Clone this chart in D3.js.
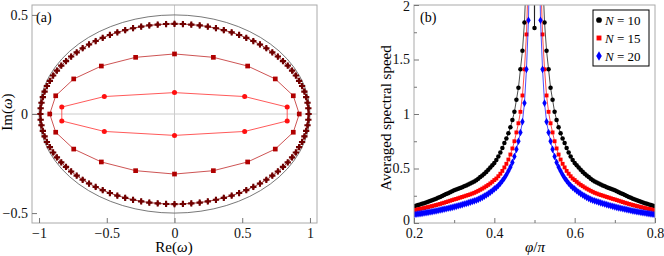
<!DOCTYPE html>
<html>
<head>
<script src="https://cdn.jsdelivr.net/npm/d3@7"></script>
<style>
  body { margin: 0; background: #fff; }
</style>
</head>
<body>
<svg width="664" height="256" id="mainsvg"></svg>
<script>
// ---- panel (a): eigenvalues in the complex plane ----
const outerRe = [0.990,0.988,0.982,0.972,0.959,0.942,0.920,0.896,0.868,0.836,0.801,0.763,0.722,0.678,0.631,0.582,0.530,0.477,0.422,0.364,0.306,0.246,0.186,0.124,0.062,0,
  -0.062,-0.124,-0.186,-0.246,-0.306,-0.364,-0.422,-0.477,-0.530,-0.582,-0.631,-0.678,-0.722,-0.763,-0.801,-0.836,-0.868,-0.896,-0.920,-0.942,-0.959,-0.972,-0.982,-0.988,-0.990,
  -0.988,-0.982,-0.972,-0.959,-0.942,-0.920,-0.896,-0.868,-0.836,-0.801,-0.763,-0.722,-0.678,-0.631,-0.582,-0.530,-0.477,-0.422,-0.364,-0.306,-0.246,-0.186,-0.124,-0.062,0,
  0.062,0.124,0.186,0.246,0.306,0.364,0.422,0.477,0.530,0.582,0.631,0.678,0.722,0.763,0.801,0.836,0.868,0.896,0.920,0.942,0.959,0.972,0.982,0.988];
const outerIm = [0,0.029,0.057,0.085,0.113,0.141,0.167,0.194,0.219,0.244,0.267,0.290,0.311,0.332,0.351,0.368,0.384,0.399,0.412,0.423,0.433,0.441,0.447,0.451,0.454,0.455,
  0.454,0.451,0.447,0.441,0.433,0.423,0.412,0.399,0.384,0.368,0.351,0.332,0.311,0.290,0.267,0.244,0.219,0.194,0.167,0.141,0.113,0.085,0.057,0.029,0,
  -0.029,-0.057,-0.085,-0.113,-0.141,-0.167,-0.194,-0.219,-0.244,-0.267,-0.290,-0.311,-0.332,-0.351,-0.368,-0.384,-0.399,-0.412,-0.423,-0.433,-0.441,-0.447,-0.451,-0.454,-0.455,
  -0.454,-0.451,-0.447,-0.441,-0.433,-0.423,-0.412,-0.399,-0.384,-0.368,-0.351,-0.332,-0.311,-0.290,-0.267,-0.244,-0.219,-0.194,-0.167,-0.141,-0.113,-0.085,-0.057,-0.029];
const midRe = [0.921,0.877,0.744,0.540,0.287,0,-0.287,-0.540,-0.744,-0.877,-0.921,-0.877,-0.744,-0.540,-0.287,0,0.287,0.540,0.744,0.877];
const midIm = [0,0.092,0.177,0.242,0.286,0.303,0.286,0.242,0.177,0.092,0,-0.092,-0.177,-0.242,-0.286,-0.303,-0.286,-0.242,-0.177,-0.092];
const innerRe = [0.832,0.518,0,-0.518,-0.832,-0.832,-0.518,0,0.518,0.832];
const innerIm = [0.035,0.088,0.108,0.088,0.035,-0.035,-0.088,-0.108,-0.088,-0.035];
const boundRe = 1, boundIm = 0.5;
const ticksA_x = [-1, -0.5, 0, 0.5, 1];
const ticksA_y = [-0.5, 0, 0.5];

// ---- panel (b): averaged spectral speed ----
const phi = [0.2,0.205,0.21,0.215,0.22,0.225,0.23,0.235,0.24,0.245,0.25,0.255,0.26,0.265,0.27,0.275,0.28,0.285,0.29,0.295,
  0.3,0.305,0.31,0.315,0.32,0.325,0.33,0.335,0.34,0.345,0.35,0.355,0.36,0.365,0.37,0.375,0.38,0.385,0.39,0.395,
  0.4,0.405,0.41,0.415,0.42,0.425,0.43,0.435,0.44,0.445,0.45,0.455,0.46,0.465,0.47,0.475,0.48,0.485,0.49,0.495,0.5,
  0.505,0.51,0.515,0.52,0.525,0.53,0.535,0.54,0.545,0.55,0.555,0.56,0.565,0.57,0.575,0.58,0.585,0.59,0.595,
  0.6,0.605,0.61,0.615,0.62,0.625,0.63,0.635,0.64,0.645,0.65,0.655,0.66,0.665,0.67,0.675,0.68,0.685,0.69,0.695,
  0.7,0.705,0.71,0.715,0.72,0.725,0.73,0.735,0.74,0.745,0.75,0.755,0.76,0.765,0.77,0.775,0.78,0.785,0.79,0.795,0.8];
const speedN10 = [0.154,0.159,0.164,0.170,0.176,0.182,0.188,0.195,0.202,0.209,0.216,0.223,0.231,0.239,0.247,0.256,0.265,0.274,0.283,0.291,
  0.300,0.307,0.314,0.321,0.329,0.337,0.345,0.354,0.362,0.371,0.380,0.393,0.407,0.421,0.435,0.452,0.469,0.488,0.509,0.529,
  0.550,0.579,0.611,0.647,0.688,0.733,0.776,0.823,0.878,0.945,1.02,1.13,1.24,1.41,1.58,1.84,2.30,2.85,3.60,4.80,1.79,
  4.80,3.60,2.85,2.30,1.84,1.58,1.41,1.24,1.13,1.02,0.945,0.878,0.823,0.776,0.733,0.688,0.647,0.611,0.579,0.550,
  0.529,0.509,0.488,0.469,0.452,0.435,0.421,0.407,0.393,0.380,0.371,0.362,0.354,0.345,0.337,0.329,0.321,0.314,0.307,0.300,
  0.291,0.283,0.274,0.265,0.256,0.247,0.239,0.231,0.223,0.216,0.209,0.202,0.195,0.188,0.182,0.176,0.170,0.164,0.159,0.154];
const speedN15 = [0.117,0.121,0.125,0.129,0.133,0.137,0.142,0.146,0.151,0.155,0.160,0.165,0.170,0.175,0.181,0.186,0.192,0.198,0.204,0.210,
  0.216,0.221,0.227,0.233,0.239,0.245,0.251,0.257,0.263,0.270,0.277,0.286,0.295,0.305,0.315,0.326,0.338,0.350,0.363,0.378,
  0.394,0.408,0.429,0.452,0.478,0.510,0.543,0.582,0.628,0.684,0.750,0.831,0.915,1.02,1.17,1.41,1.73,2.30,3.00,4.00,5.50,
  4.00,3.00,2.30,1.73,1.41,1.17,1.02,0.915,0.831,0.750,0.684,0.628,0.582,0.543,0.510,0.478,0.452,0.429,0.408,0.394,
  0.378,0.363,0.350,0.338,0.326,0.315,0.305,0.295,0.286,0.277,0.270,0.263,0.257,0.251,0.245,0.239,0.233,0.227,0.221,0.216,
  0.210,0.204,0.198,0.192,0.186,0.181,0.175,0.170,0.165,0.160,0.155,0.151,0.146,0.142,0.137,0.133,0.129,0.125,0.121,0.117];
const speedN20 = [0.077,0.080,0.083,0.086,0.089,0.092,0.095,0.098,0.101,0.104,0.108,0.111,0.115,0.119,0.123,0.127,0.131,0.135,0.139,0.143,
  0.148,0.153,0.158,0.163,0.168,0.174,0.179,0.185,0.191,0.197,0.203,0.209,0.217,0.226,0.235,0.246,0.257,0.269,0.282,0.296,
  0.313,0.326,0.344,0.365,0.388,0.413,0.443,0.477,0.513,0.556,0.610,0.676,0.750,0.830,0.930,1.10,1.41,1.86,2.80,4.50,6.00,
  4.50,2.80,1.86,1.41,1.10,0.930,0.830,0.750,0.676,0.610,0.556,0.513,0.477,0.443,0.413,0.388,0.365,0.344,0.326,0.313,
  0.296,0.282,0.269,0.257,0.246,0.235,0.226,0.217,0.209,0.203,0.197,0.191,0.185,0.179,0.174,0.168,0.163,0.158,0.153,0.148,
  0.143,0.139,0.135,0.131,0.127,0.123,0.119,0.115,0.111,0.108,0.104,0.101,0.098,0.095,0.092,0.089,0.086,0.083,0.080,0.077];
const seriesN = ['10', '15', '20'];
const ticksB_x = [0.2, 0.4, 0.6, 0.8];
const minorB_x = [0.3, 0.5, 0.7];
const ticksB_y = [0, 0.5, 1, 1.5, 2];
const minorB_y = [0.25, 0.75, 1.25, 1.75];

const FONT = "'Liberation Serif', 'DejaVu Serif', serif";
const svg = d3.select('#mainsvg').style('font-family', FONT);
const fmt = d3.format('~g');
const frameColor = '#aaa';

// ================= panel (a) =================
const xA = d3.scaleLinear().domain([-1.052, 1.052]).range([32, 317]);
const yA = d3.scaleLinear().domain([-0.55, 0.55]).range([223, 5]);
const gA = svg.append('g');

// zero lines
gA.append('line').attr('x1', xA(0)).attr('x2', xA(0)).attr('y1', 5).attr('y2', 223)
  .attr('stroke', '#ccc').attr('stroke-width', 1);
gA.append('line').attr('x1', 32).attr('x2', 317).attr('y1', yA(0)).attr('y2', yA(0))
  .attr('stroke', '#ccc').attr('stroke-width', 1);

// bounding ellipse
gA.append('ellipse').attr('cx', xA(0)).attr('cy', yA(0))
  .attr('rx', xA(boundRe) - xA(0)).attr('ry', yA(0) - yA(boundIm))
  .attr('fill', 'none').attr('stroke', '#555').attr('stroke-width', 0.8);

const loop = d3.line().x(d => xA(d[0])).y(d => yA(d[1])).curve(d3.curveLinearClosed);
const sets = [
  {re: outerRe, im: outerIm, line: '#8a1010', fill: '#700000', sym: d3.symbolCross, size: 22},
  {re: midRe, im: midIm, line: '#c02828', fill: '#b00000', sym: d3.symbolSquare, size: 22},
  {re: innerRe, im: innerIm, line: '#ff3030', fill: '#ff1010', sym: d3.symbolCircle, size: 20}
];
sets.forEach(s => {
  const pts = s.re.map((r, i) => [r, s.im[i]]);
  gA.append('path').attr('d', loop(pts)).attr('fill', 'none')
    .attr('stroke', s.line).attr('stroke-width', 0.8);
  gA.selectAll(null).data(pts).join('path')
    .attr('transform', d => `translate(${xA(d[0])},${yA(d[1])})`)
    .attr('d', d3.symbol().type(s.sym).size(s.size))
    .attr('fill', s.fill);
  if (s.sym === d3.symbolCross) {
    gA.selectAll(null).data(pts).join('path')
      .attr('transform', d => `translate(${xA(d[0])},${yA(d[1])})`)
      .attr('d', d3.symbol().type(d3.symbolDiamond).size(12))
      .attr('fill', s.fill);
  }
});

// frame + axes
gA.append('rect').attr('x', 32).attr('y', 5).attr('width', 285).attr('height', 218)
  .attr('fill', 'none').attr('stroke', frameColor);
const axA_x = gA.append('g').attr('transform', 'translate(0,223)')
  .call(d3.axisBottom(xA).tickValues(ticksA_x).tickSize(-5).tickPadding(5).tickFormat(fmt));
const axA_y = gA.append('g').attr('transform', 'translate(32,0)')
  .call(d3.axisLeft(yA).tickValues(ticksA_y).tickSize(-5).tickPadding(4).tickFormat(fmt));
[axA_x, axA_y].forEach(a => {
  a.attr('font-family', FONT);
  a.select('.domain').remove();
  a.selectAll('line').attr('stroke', '#777');
  a.selectAll('text').attr('font-size', 14).attr('fill', '#111');
});
gA.append('text').attr('x', 36).attr('y', 22).attr('font-size', 14).text('(a)');
gA.append('text').attr('x', 174).attr('y', 252).attr('text-anchor', 'middle').attr('font-size', 15)
  .html('Re(<tspan font-style="italic">ω</tspan>)');
gA.append('text').attr('transform', 'translate(12,112) rotate(-90)').attr('text-anchor', 'middle')
  .attr('font-size', 15).html('Im(<tspan font-style="italic">ω</tspan>)');

// ================= panel (b) =================
const xB = d3.scaleLinear().domain([0.2, 0.8]).range([414, 655]);
const yB = d3.scaleLinear().domain([0, 2]).range([223, 5]);
const gB = svg.append('g');
svg.append('clipPath').attr('id', 'clipB').append('rect')
  .attr('x', 414).attr('y', 5).attr('width', 241).attr('height', 218);

const plot = gB.append('g').attr('clip-path', 'url(#clipB)');
const curves = [
  {vals: speedN10, color: '#000', sym: d3.symbolCircle, size: 16},
  {vals: speedN15, color: '#f00', sym: d3.symbolSquare, size: 15},
  {vals: speedN20, color: '#00f', sym: d3.symbolDiamond, size: 17}
];
const lineB = d3.line().x(d => xB(d[0])).y(d => yB(d[1]));
curves.forEach(c => {
  const pts = phi.map((p, i) => [p, c.vals[i]]);
  plot.append('path').attr('d', lineB(pts)).attr('fill', 'none')
    .attr('stroke', c.color).attr('stroke-width', 0.7);
  plot.selectAll(null).data(pts.filter(d => d[1] <= 2.05)).join('path')
    .attr('transform', d => `translate(${xB(d[0])},${yB(d[1])})`)
    .attr('d', d3.symbol().type(c.sym).size(c.size))
    .attr('fill', c.color);
});

gB.append('rect').attr('x', 414).attr('y', 5).attr('width', 241).attr('height', 218)
  .attr('fill', 'none').attr('stroke', frameColor);
const axB_x = gB.append('g').attr('transform', 'translate(0,223)')
  .call(d3.axisBottom(xB).tickValues(ticksB_x).tickSize(-5).tickPadding(5).tickFormat(fmt));
const axB_y = gB.append('g').attr('transform', 'translate(414,0)')
  .call(d3.axisLeft(yB).tickValues(ticksB_y).tickSize(-5).tickPadding(4).tickFormat(fmt));
gB.append('g').attr('transform', 'translate(0,223)')
  .call(d3.axisBottom(xB).tickValues(minorB_x).tickSize(-3).tickFormat(''));
gB.append('g').attr('transform', 'translate(414,0)')
  .call(d3.axisLeft(yB).tickValues(minorB_y).tickSize(-3).tickFormat(''));
gB.selectAll('.domain').remove();
gB.selectAll('.tick line').attr('stroke', '#777');
[axB_x, axB_y].forEach(a => a.attr('font-family', FONT)
  .selectAll('text').attr('font-size', 14).attr('fill', '#111'));
axB_y.selectAll('.tick').filter(d => d === 2).select('text').attr('dy', '0.7em').attr('y', -4);
axB_y.selectAll('.tick').filter(d => d === 0).select('text').attr('dy', '0.1em');

gB.append('text').attr('x', 420).attr('y', 22).attr('font-size', 14).text('(b)');
gB.append('text').attr('x', 535).attr('y', 252).attr('text-anchor', 'middle').attr('font-size', 15)
  .html('<tspan font-style="italic">φ</tspan>/<tspan font-style="italic">π</tspan>');
gB.append('text').attr('transform', 'translate(391,118) rotate(-90)').attr('text-anchor', 'middle')
  .attr('font-size', 15).text('Averaged spectral speed');

// legend
const leg = gB.append('g');
leg.append('rect').attr('x', 593).attr('y', 10).attr('width', 56).attr('height', 56)
  .attr('fill', '#fff').attr('stroke', '#000').attr('stroke-width', 1);
curves.forEach((c, i) => {
  const yy = 20 + i * 18;
  leg.append('path').attr('transform', `translate(599,${yy})`)
    .attr('d', d3.symbol().type(c.sym).size(c.size * 1.6)).attr('fill', c.color);
  leg.append('text').attr('x', 605).attr('y', yy + 4.5).attr('font-size', 13)
    .html(`<tspan font-style="italic">N</tspan> = ${seriesN[i]}`);
});
</script>
</body>
</html>
